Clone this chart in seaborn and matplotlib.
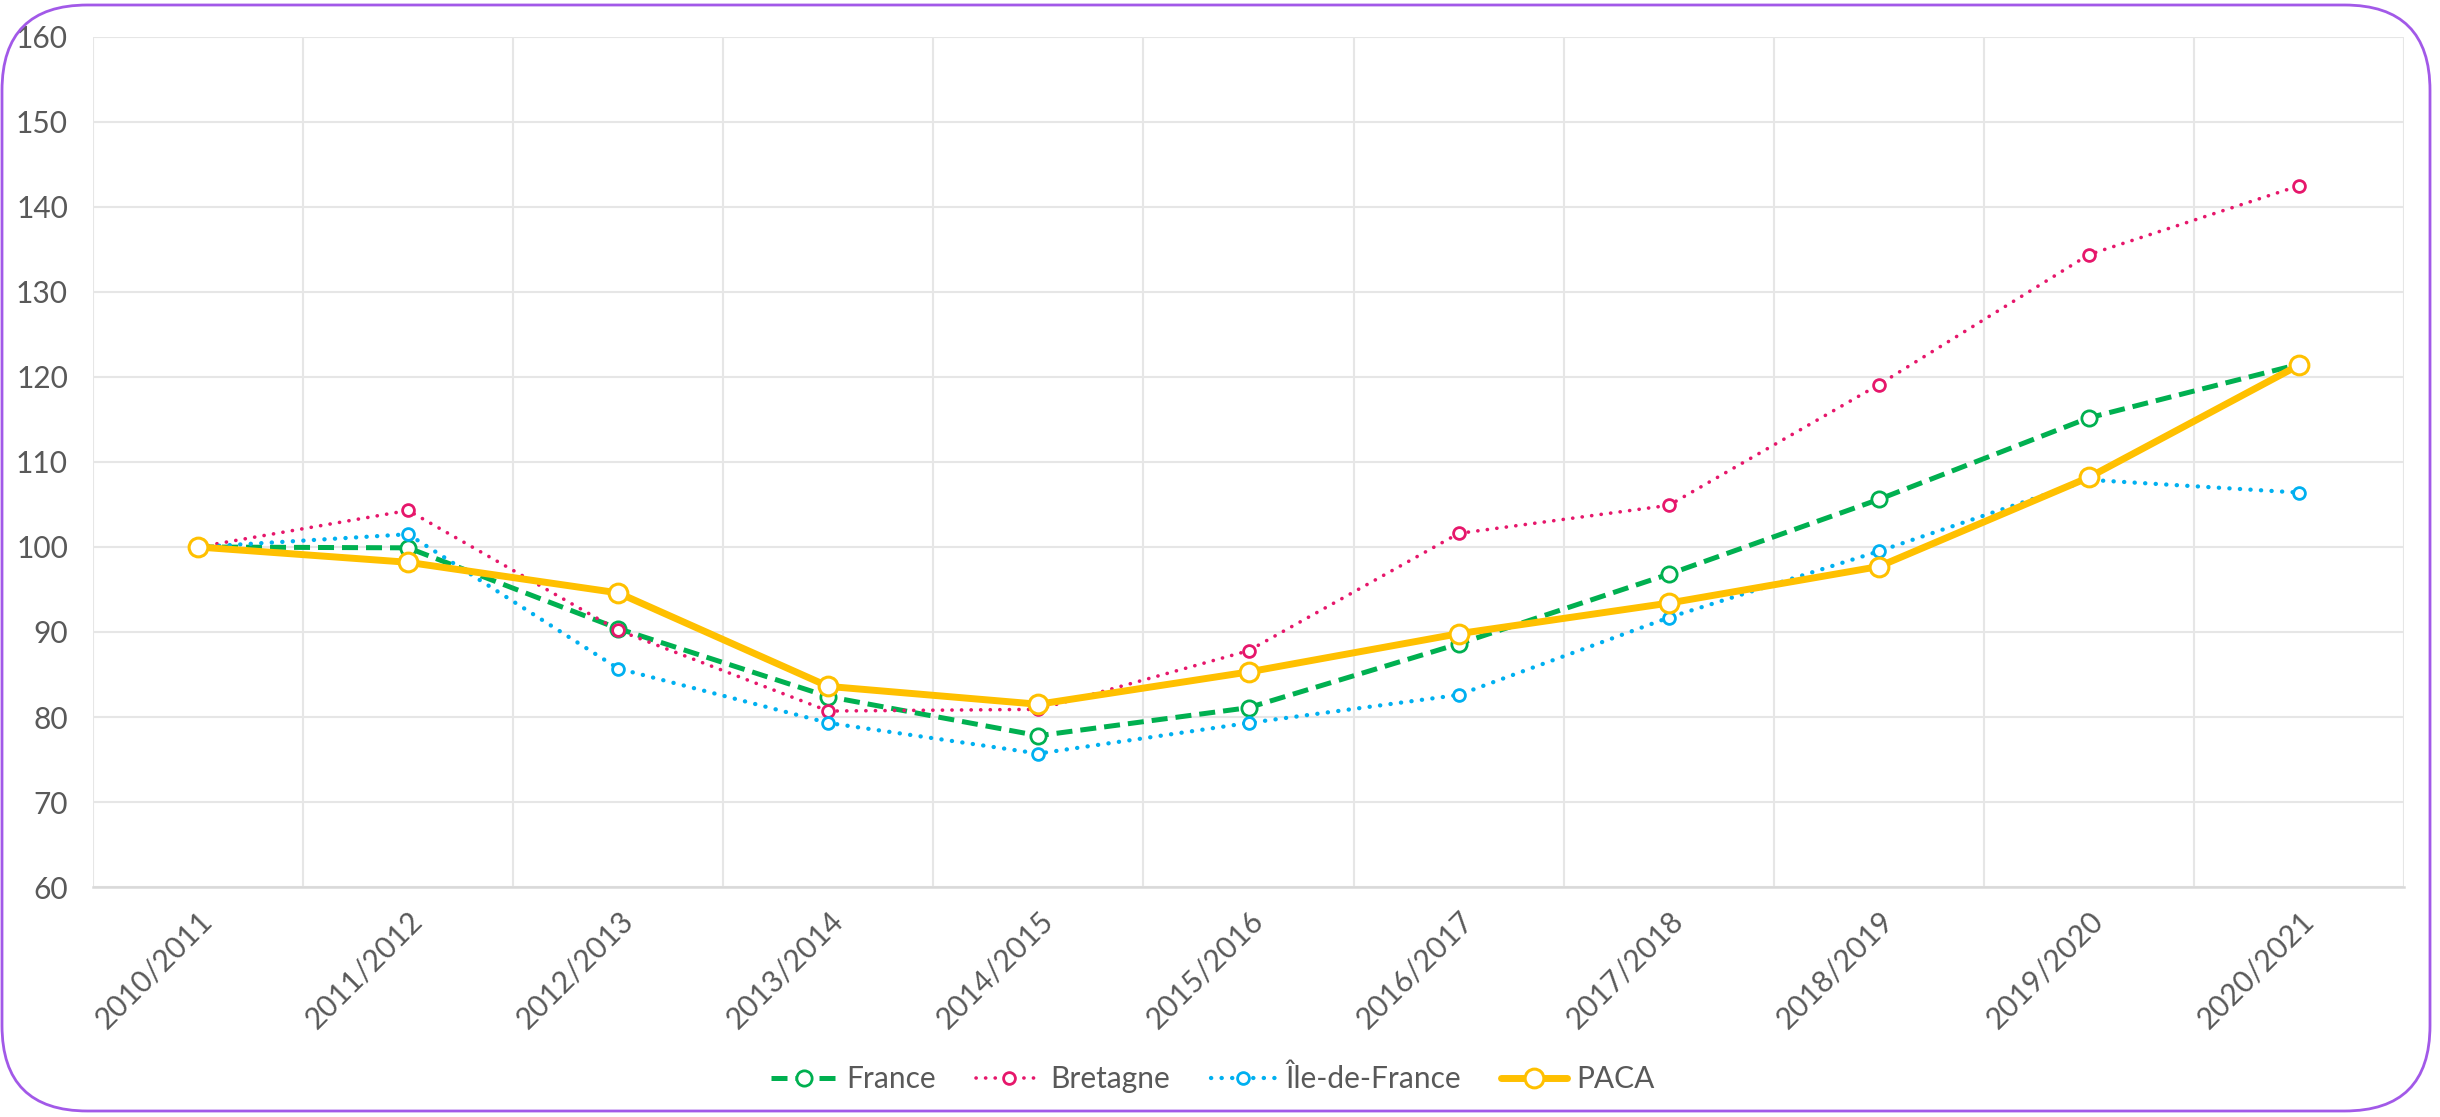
import matplotlib.pyplot as plt
import seaborn as sns
import pandas as pd
from matplotlib.patches import FancyBboxPatch
from matplotlib.ticker import FixedLocator, MultipleLocator

# ---- data (index base 100 in 2010/2011) ----
seasons = ["2010/2011", "2011/2012", "2012/2013", "2013/2014", "2014/2015", "2015/2016",
           "2016/2017", "2017/2018", "2018/2019", "2019/2020", "2020/2021"]
france = [100, 99.9, 90.4, 82.4, 77.8, 81.1, 88.6, 96.8, 105.6, 115.2, 121.5]
bretagne = [100, 104.3, 90.2, 80.7, 80.9, 87.8, 101.6, 104.9, 119.1, 134.4, 142.5]
idf = [100, 101.5, 85.7, 79.3, 75.7, 79.3, 82.6, 91.7, 99.5, 107.9, 106.4]
paca = [100, 98.2, 94.6, 83.6, 81.5, 85.3, 89.8, 93.4, 97.7, 108.2, 121.4]

series_names = ["France", "Bretagne", "Île-de-France", "PACA"]
series_values = [france, bretagne, idf, paca]

# style per series
styles = {
    "France": dict(color="#00B050", ls=(0, (3.2, 1.6)), lw=3.6, ms=11, mew=2.0, cap="butt"),
    "Bretagne": dict(color="#E6176B", ls=(0, (0.05, 2.6)), lw=2.6, ms=8.5, mew=2.0, cap="round"),
    "Île-de-France": dict(color="#00B0F0", ls=(0, (0.05, 2.4)), lw=3.1, ms=8.5, mew=2.0, cap="round"),
    "PACA": dict(color="#FFC000", ls="-", lw=5.0, ms=13.5, mew=2.2, cap="round"),
}

sns.set_theme(style="white")
plt.rcParams["font.family"] = ["Lato", "DejaVu Sans"]

fig = plt.figure(figsize=(24.4, 11.17), dpi=100)
ax = fig.add_axes([0.0381, 0.2059, 0.9472, 0.761])

for name, vals in zip(series_names, series_values):
    df = pd.DataFrame({"season": seasons, "value": vals})
    st = styles[name]
    sns.lineplot(data=df, x="season", y="value", ax=ax, label=name, sort=False,
                 color=st["color"], linestyle=st["ls"], linewidth=st["lw"],
                 marker="o", markersize=st["ms"], markerfacecolor="white",
                 markeredgecolor=st["color"], markeredgewidth=st["mew"],
                 dash_capstyle=st["cap"], solid_capstyle="round")

ax.set_xlim(-0.5, len(seasons) - 0.5)
ax.set_ylim(60, 160)
ax.yaxis.set_major_locator(MultipleLocator(10))
ax.xaxis.set_minor_locator(FixedLocator([i + 0.5 for i in range(-1, len(seasons))]))

ax.grid(axis="y", which="major", color="#E6E6E6", lw=1.5)
ax.grid(axis="x", which="minor", color="#E6E6E6", lw=1.5)
ax.grid(axis="x", which="major", visible=False)
ax.set_axisbelow(True)

for s in ["top", "right", "left"]:
    ax.spines[s].set_visible(False)
ax.spines["bottom"].set_color("#D9D9D9")
ax.spines["bottom"].set_linewidth(1.8)

ax.set_xlabel("")
ax.set_ylabel("")
ax.tick_params(axis="both", which="both", length=0, labelsize=21.5, labelcolor="#595959")
ax.tick_params(axis="y", pad=18)
ax.tick_params(axis="x", pad=14)
ax.set_xticks(range(len(seasons)))
ax.set_xticklabels(seasons, rotation=45, ha="right", rotation_mode="anchor")

leg = ax.legend(loc="center", bbox_to_anchor=(0.497, 0.034), bbox_transform=fig.transFigure,
                ncol=4, frameon=False, fontsize=21.5, handlelength=2.2, handletextpad=0.3,
                columnspacing=1.35)
for txt in leg.get_texts():
    txt.set_color("#595959")

# rounded purple frame around the chart
frame = FancyBboxPatch((2 / 2440, 6 / 1117), 2428 / 2440, 1106 / 1117,
                       boxstyle="round,pad=0,rounding_size=0.035",
                       transform=fig.transFigure, fill=False,
                       edgecolor="#A259E8", linewidth=2.0, mutation_aspect=2440 / 1117)
fig.patches.append(frame)

fig.savefig("out.png", dpi=100)
